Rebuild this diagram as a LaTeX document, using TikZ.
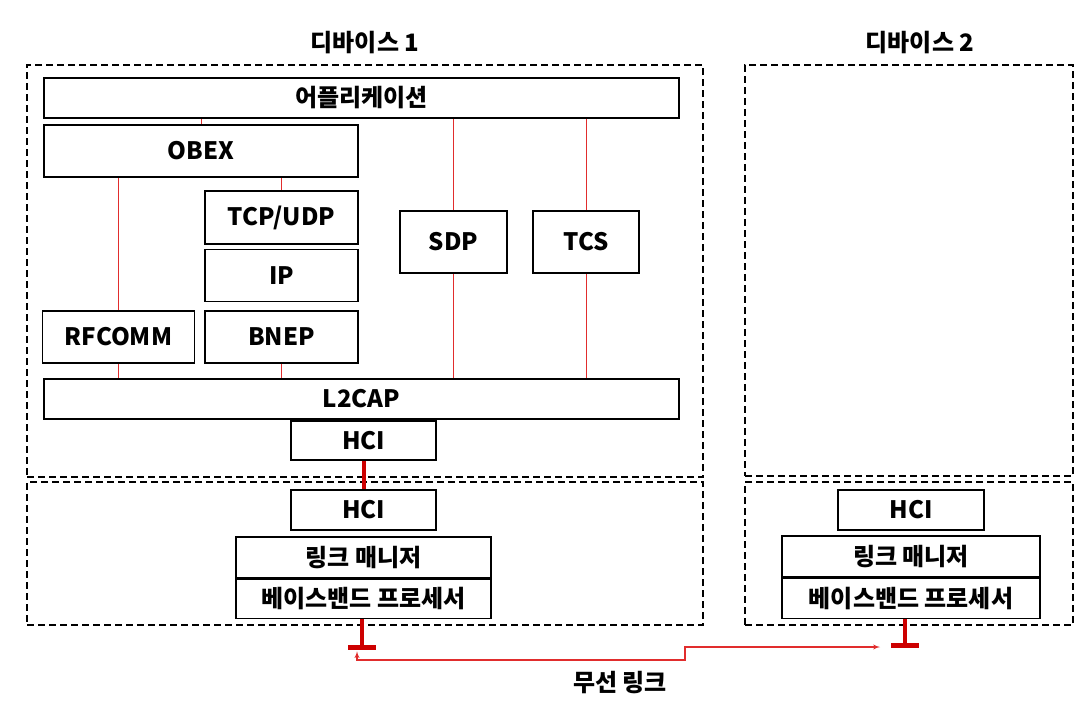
\documentclass[tikz,border=0pt]{standalone}
\usepackage{fontspec}
\setmainfont{Noto Sans CJK KR}
\usetikzlibrary{arrows, positioning, backgrounds, calc}
\usepackage{xcolor}
\definecolor{wirered}{RGB}{225, 45, 45}
\definecolor{busred}{RGB}{205, 0, 0}

\begin{document}
\begin{tikzpicture}[
    x=1pt, y=-1pt,
    layer/.style={
        rectangle,
        draw=black,
        line width=1.5pt,
        fill=white,
        align=center,
        inner sep=0pt,
        font=\bfseries\fontsize{24}{26}\selectfont
    },
    devbox/.style={
        rectangle,
        draw=black,
        line width=1.5pt,
        dash pattern=on 7pt off 4pt,
        inner sep=0pt
    },
    title/.style={font=\bfseries\fontsize{24}{26}\selectfont},
    wire/.style={draw=wirered, line width=0.8pt},
    bus/.style={draw=busred, line width=4pt},
    antbar/.style={draw=busred, line width=5pt},
    radio/.style={draw=wirered, line width=1.3pt, latex'-latex'}
]
    \fill[white] (0,0) rectangle (1089,704);
    \useasboundingbox (0,0) rectangle (1089,704);

    % Devices
    \node[title] (title1) at (365,43) {디바이스 1};
    \node[title] (title2) at (920,43) {디바이스 2};

    \node[devbox, minimum width=676pt, minimum height=412pt] (host1) at (365,271) {};
    \node[devbox, minimum width=676pt, minimum height=143pt] (ctrl1) at (365,553.5) {};
    \node[devbox, minimum width=328pt, minimum height=411pt] (host2) at (909,270.5) {};
    \node[devbox, minimum width=328pt, minimum height=143pt] (ctrl2) at (909,553.5) {};

    % Host stack, device 1
    \node[layer, minimum width=635pt, minimum height=40pt] (app) at (361.5,98) {어플리케이션};
    \node[layer, minimum width=314pt, minimum height=52pt] (obex) at (201,151) {OBEX};
    \node[layer, minimum width=153pt, minimum height=53pt] (tcp) at (281.5,217.5) {TCP/UDP};
    \node[layer, minimum width=153pt, minimum height=52pt, below=4pt of tcp] (ip) {IP};
    \node[layer, minimum width=153pt, minimum height=52pt, below=8pt of ip] (bnep) {BNEP};
    \node[layer, minimum width=152pt, minimum height=52pt, left=9pt of bnep] (rfcomm) {RFCOMM};
    \node[layer, minimum width=107pt, minimum height=62pt] (sdp) at (453.5,242) {SDP};
    \node[layer, minimum width=106pt, minimum height=62pt] (tcs) at (586,242) {TCS};
    \node[layer, minimum width=635pt, minimum height=40pt] (l2cap) at (361.5,399) {L2CAP};
    \node[layer, minimum width=145pt, minimum height=39pt] (hciA) at (363.5,440.5) {HCI};

    % Controller, device 1
    \node[layer, minimum width=145pt, minimum height=40pt] (hciB) at (363.5,510) {HCI};
    \node[layer, minimum width=255pt, minimum height=41pt] (lmA) at (363.5,557.5) {링크 매니저};
    \node[layer, minimum width=255pt, minimum height=39pt, below=0pt of lmA] (bbA) {베이스밴드 프로세서};

    % Controller, device 2
    \node[layer, minimum width=146pt, minimum height=40pt] (hciC) at (911,510) {HCI};
    \node[layer, minimum width=258pt, minimum height=41pt] (lmC) at (911,556.5) {링크 매니저};
    \node[layer, minimum width=258pt, minimum height=40pt, below=0pt of lmC] (bbC) {베이스밴드 프로세서};

    % Internal links
    \draw[wire] (app.south -| obex.north) -- (obex.north);
    \draw[wire] (obex.south -| rfcomm.north) -- (rfcomm.north);
    \draw[wire] (rfcomm.south) -- (rfcomm.south |- l2cap.north);
    \draw[wire] (obex.south -| tcp.north) -- (tcp.north);
    \draw[wire] (bnep.south) -- (bnep.south |- l2cap.north);
    \draw[wire] (app.south -| sdp.north) -- (sdp.north);
    \draw[wire] (sdp.south) -- (sdp.south |- l2cap.north);
    \draw[wire] (app.south -| tcs.north) -- (tcs.north);
    \draw[wire] (tcs.south) -- (tcs.south |- l2cap.north);
    \draw[bus] (hciA.south) -- (hciB.north);

    % Antennas
    \coordinate (antA) at ($(bbA.south)+(-1.5,28)$);
    \coordinate (antC) at (905,645);
    \draw[bus] (antA |- bbA.south) -- (antA);
    \draw[antbar] ($(antA)+(-14,0)$) -- ($(antA)+(14,0)$);
    \draw[bus] (antC |- bbC.south) -- (antC);
    \draw[antbar] ($(antC)+(-14,0)$) -- ($(antC)+(14,0)$);

    % Wireless link
    \coordinate (hop) at (685,660);
    \draw[radio] ($(antA)+(-5,4)$) |- (hop) |- ($(antC)+(-25,2)$);
    \node[title] (air) at (620,683) {무선 링크};

\end{tikzpicture}
\end{document}
